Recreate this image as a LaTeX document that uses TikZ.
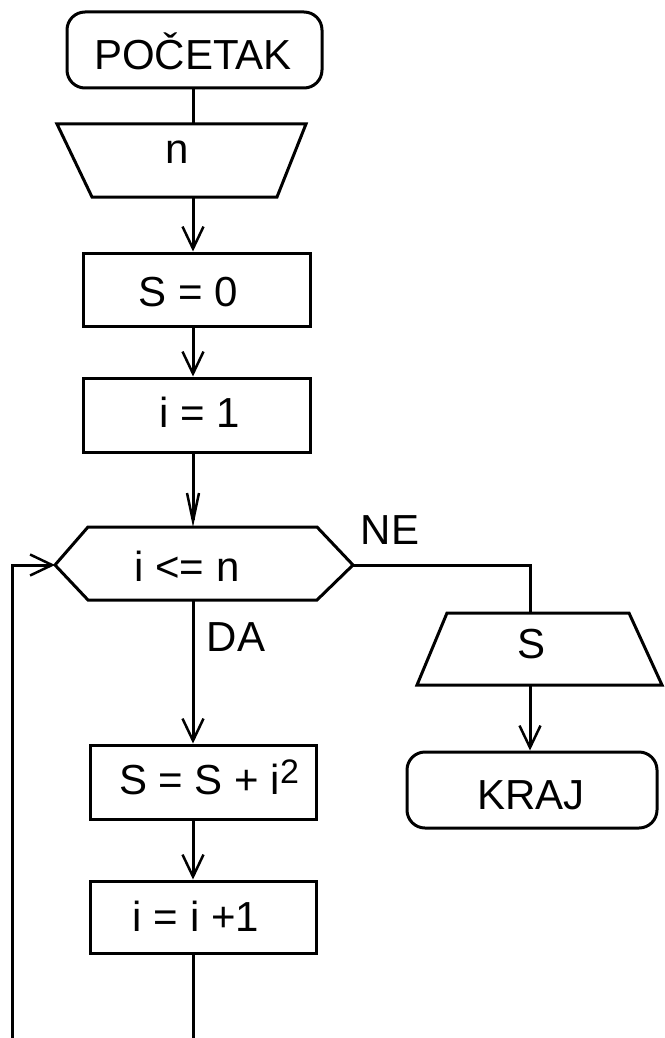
\documentclass[tikz,border=0pt]{standalone}
\usepackage{fontspec}
\setmainfont{Liberation Sans}
\usetikzlibrary{arrows.meta}
\begin{document}
\begin{tikzpicture}[x=1pt,y=-1pt,
  flow/.style={line width=3pt},
  box/.style={draw, rectangle, inner sep=0pt, line width=3pt},
  term/.style={draw, rectangle, rounded corners=18pt, inner sep=0pt, line width=3pt},
  lbl/.style={font=\fontsize{42}{42}\selectfont, inner sep=0pt},
  arr/.style={flow, -{Straight Barb[length=22pt,width=21pt,line width=2.5pt]}},
  arrn/.style={flow, -{Straight Barb[length=28pt,width=12pt,line width=2.5pt]}}]
\fill[white] (0,0) rectangle (664,1038);
\useasboundingbox (0,0) rectangle (664,1038);
\coordinate (ax) at (193,0);
% shapes
\node[term, minimum width=255pt, minimum height=76pt] (start) at (194.5,50) {};
\draw[flow] (57,124) -- (306,124) -- (277,197) -- (92,197) -- cycle;
\coordinate (nT) at (193,124);
\coordinate (nB) at (193,197);
\node[box, minimum width=227pt, minimum height=73pt] (s0) at (196.5,289.5) {};
\node[box, minimum width=227pt, minimum height=74pt] (i1) at (196.5,415) {};
\draw[flow] (55,565) -- (88,527) -- (317,527) -- (353,565) -- (317,600) -- (88,600) -- cycle;
\coordinate (hexT) at (193,527);
\coordinate (hexB) at (193,600);
\coordinate (hexL) at (55,565);
\coordinate (hexR) at (353,565);
\node[box, minimum width=226pt, minimum height=74pt] (ss) at (203,782) {};
\node[box, minimum width=226pt, minimum height=72pt] (ii) at (203,917) {};
\draw[flow] (447,613) -- (629,613) -- (662,685) -- (417,685) -- cycle;
\coordinate (sT) at (530,613);
\coordinate (sB) at (530,685);
\node[term, minimum width=250pt, minimum height=76pt] (kraj) at (532,790) {};
\coordinate (bot1) at (193,1042);
\coordinate (bot2) at (12,1042);
% texts
\node[lbl] (tstart) at (193,51) {POČETAK};
\node[lbl] (tn) at (177,152) {n};
\node[lbl] (ts0) at (188,292) {S = 0};
\node[lbl] (ti1) at (200,412) {i = 1};
\node[lbl] (tif) at (187,566) {i <= n};
\node[lbl] (tda) at (236,637) {DA};
\node[lbl] (tne) at (390,530) {NE};
\node[lbl] (tss) at (209,777) {S = S + i\raisebox{11pt}{\fontsize{34}{34}\selectfont 2}};
\node[lbl] (tii) at (196,916) {i = i +1};
\node[lbl] (ts) at (531,644) {S};
\node[lbl] (tkraj) at (531,795) {KRAJ};
% connectors
\draw[flow] (start.south -| ax) -- (nT);
\draw[arr] (nB) -- (s0.north -| ax);
\draw[arr] (s0.south -| ax) -- (i1.north -| ax);
\draw[arrn] (i1.south -| ax) -- (hexT);
\draw[arr] (hexB) -- (ss.north -| ax);
\draw[arr] (ss.south -| ax) -- (ii.north -| ax);
\draw[flow] (ii.south -| ax) -- (bot1);
\draw[arr] (bot2) |- (hexL);
\draw[flow] (hexR) -| (sT);
\draw[arr] (sB) -- (kraj.north -| sB);
\end{tikzpicture}
\end{document}
